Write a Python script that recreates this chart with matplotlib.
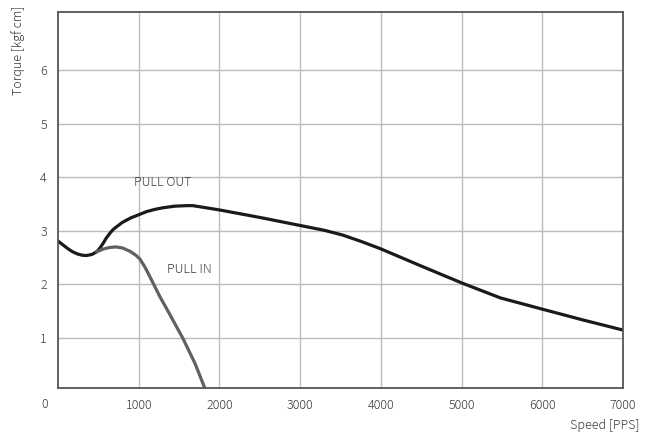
import numpy as np
import matplotlib.pyplot as plt

plt.rcParams['font.family'] = ['Noto Sans CJK JP', 'DejaVu Sans']

# pull out torque curve (speed PPS, torque kgf cm)
out_x = [0, 60, 120, 180, 240, 300, 355, 420, 480, 520, 560, 600, 640, 680, 720, 800, 900,
         1000, 1100, 1200, 1300, 1446, 1600, 1670,
         2000, 2500, 3000, 3300, 3530, 3760, 3990, 4490, 5000, 5480, 6000, 6500, 7000]
out_y = [2.81, 2.74, 2.67, 2.61, 2.57, 2.545, 2.54, 2.56, 2.61, 2.68, 2.77, 2.87, 2.95, 3.02, 3.07, 3.16, 3.24,
         3.30, 3.36, 3.40, 3.43, 3.46, 3.47, 3.47,
         3.39, 3.25, 3.10, 3.01, 2.92, 2.80, 2.67, 2.35, 2.03, 1.75, 1.54, 1.34, 1.15]

# pull in torque curve
in_x = [480, 560, 640, 720, 800, 890, 960, 1012, 1075, 1130, 1174, 1260, 1360, 1546, 1700, 1831]
in_y = [2.61, 2.66, 2.69, 2.70, 2.68, 2.62, 2.55, 2.48, 2.33, 2.17, 2.04, 1.78, 1.51, 1.00, 0.52, 0.02]

xticks = [1000, 2000, 3000, 4000, 5000, 6000, 7000]
yticks = [1, 2, 3, 4, 5, 6]

txt = '#3a3a3a'

fig = plt.figure(figsize=(6.62, 4.37), dpi=100)
ax = fig.add_axes([58/662, 49/437, 565/662, 376/437])

ax.plot(out_x, out_y, color='#1a1a1a', lw=2.3, solid_joinstyle='round')
ax.plot(in_x, in_y, color='#606060', lw=2.3, solid_joinstyle='round')

ax.set_xlim(0, 7000)
ax.set_ylim(0.07, 7.08)
ax.set_xticks(xticks)
ax.set_yticks(yticks)
ax.grid(True, color='#bbbbbb', lw=1)
ax.set_axisbelow(True)
ax.tick_params(length=0, labelsize=9, labelcolor=txt)
ax.tick_params(axis='x', pad=8)
ax.tick_params(axis='y', pad=8)
for lab in ax.get_xticklabels() + ax.get_yticklabels():
    lab.set_fontweight('light')
for s in ax.spines.values():
    s.set_color('#555555')
    s.set_linewidth(1.3)

fig.text(45/662, 1 - 405/437, '0', fontsize=9, color=txt, ha='center', va='center',
         fontweight='light')

ax.text(1300, 3.9, 'PULL OUT', fontsize=9, color=txt, ha='center', va='center',
        fontweight='light')
ax.text(1630, 2.28, 'PULL IN', fontsize=9, color=txt, ha='center', va='center',
        fontweight='light')

fig.text(18/662, 1 - 50/437, 'Torque [kgf cm]', rotation=90, fontsize=9,
         color=txt, ha='center', va='center', fontweight='light')
fig.text(640/662, 1 - 425/437, 'Speed [PPS]', fontsize=9, color=txt,
         ha='right', va='center', fontweight='light')

fig.savefig('out.png', dpi=100)
